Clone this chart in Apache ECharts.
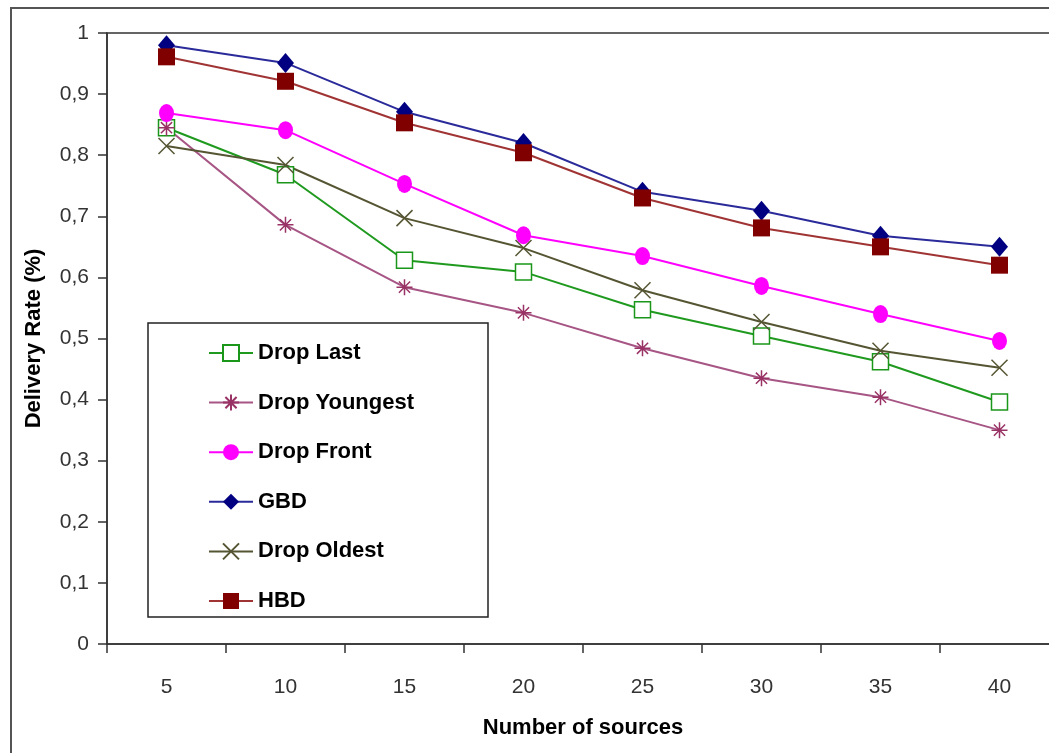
<!DOCTYPE html>
<html>
<head>
<meta charset="utf-8">
<script src="https://cdn.jsdelivr.net/npm/echarts@6/dist/echarts.min.js"></script>
<style>
  html, body { margin: 0; padding: 0; background: #fff; overflow: hidden; }
  #chart { width: 1080px; height: 753px; }
</style>
</head>
<body>
<div id="chart"></div>
<script>
// categories and series values
const sources = ['5', '10', '15', '20', '25', '30', '35', '40'];
const dropLast = [0.845, 0.768, 0.628, 0.609, 0.547, 0.504, 0.462, 0.396];
const dropYoungest = [0.845, 0.686, 0.584, 0.542, 0.484, 0.435, 0.404, 0.350];
const dropFront = [0.869, 0.841, 0.753, 0.669, 0.635, 0.586, 0.540, 0.496];
const gbd = [0.980, 0.951, 0.871, 0.820, 0.740, 0.709, 0.668, 0.650];
const dropOldest = [0.815, 0.784, 0.697, 0.648, 0.579, 0.527, 0.480, 0.452];
const hbd = [0.961, 0.921, 0.853, 0.804, 0.730, 0.681, 0.650, 0.620];

const FONT = '"Liberation Sans", Arial, sans-serif';

// open-stroke marker shapes
const starPath = 'path://M0,5L10,5M5,0L5,10M1.5,1.5L8.5,8.5M8.5,1.5L1.5,8.5';
const crossPath = 'path://M0,0L10,10M10,0L0,10';

function mkSeries(name, data, lineColor, symbol, size, itemStyle) {
  return {
    name: name,
    type: 'line',
    data: data,
    symbol: symbol,
    symbolSize: size,
    showAllSymbol: true,
    lineStyle: { color: lineColor, width: 2 },
    itemStyle: itemStyle,
    emphasis: { disabled: true },
    z: 3
  };
}

const chart = echarts.init(document.getElementById('chart'));

const option = {
  animation: false,
  backgroundColor: '#fff',
  graphic: [
    {
      type: 'rect',
      shape: { x: 11, y: 8, width: 1200, height: 800 },
      style: { fill: 'none', stroke: '#555', lineWidth: 2 },
      z: 0
    },
    {
      type: 'rect',
      shape: { x: 148, y: 323, width: 340, height: 294 },
      style: { fill: '#fff', stroke: '#222', lineWidth: 1.5 },
      z: 5
    }
  ],
  grid: {
    left: 107,
    top: 33,
    width: 952,
    height: 611,
    show: true,
    borderColor: '#333',
    borderWidth: 1.5,
    backgroundColor: '#fff'
  },
  legend: {
    orient: 'vertical',
    left: 208,
    top: 342,
    itemWidth: 44,
    itemHeight: 20,
    itemGap: 27.6,
    padding: 0,
    z: 6,
    textStyle: { fontFamily: FONT, fontSize: 22, color: '#000', fontWeight: 'bold', padding: [0, 0, 0, 0] },
    data: ['Drop Last', 'Drop Youngest', 'Drop Front', 'GBD', 'Drop Oldest', 'HBD']
  },
  xAxis: {
    type: 'category',
    data: sources,
    boundaryGap: true,
    name: 'Number of sources',
    nameLocation: 'middle',
    nameGap: 73,
    nameTextStyle: { fontFamily: FONT, fontSize: 22, color: '#000', fontWeight: 'bold' },
    axisLine: { lineStyle: { color: '#333', width: 1.5 } },
    axisTick: { show: true, inside: false, length: 9, interval: 0, lineStyle: { color: '#333', width: 1.5 } },
    axisLabel: { margin: 33, fontFamily: FONT, fontSize: 21, color: '#333' },
    splitLine: { show: false }
  },
  yAxis: {
    type: 'value',
    min: 0,
    max: 1,
    interval: 0.1,
    name: 'Delivery Rate (%)',
    nameLocation: 'middle',
    nameGap: 62,
    nameTextStyle: { fontFamily: FONT, fontSize: 22, color: '#000', fontWeight: 'bold' },
    axisLine: { show: true, lineStyle: { color: '#333', width: 1.5 } },
    axisTick: { show: true, inside: false, length: 9, lineStyle: { color: '#333', width: 1.5 } },
    axisLabel: {
      margin: 18,
      fontFamily: FONT,
      fontSize: 21,
      color: '#333',
      formatter: function (v) { return String(Math.round(v * 10) / 10).replace('.', ','); }
    },
    splitLine: { show: false }
  },
  series: [
    mkSeries('Drop Last', dropLast, '#1f9a1f', 'rect', 16,
      { color: '#fff', borderColor: '#1a961a', borderWidth: 1.5 }),
    mkSeries('Drop Youngest', dropYoungest, '#a65584', starPath, 16,
      { color: '#993366', borderColor: '#993366', borderWidth: 1.5 }),
    mkSeries('Drop Front', dropFront, '#ff00ff', 'circle', [15, 18],
      { color: '#ff00ff' }),
    mkSeries('GBD', gbd, '#2a2a9a', 'diamond', [17, 20],
      { color: '#000080' }),
    mkSeries('Drop Oldest', dropOldest, '#555533', crossPath, 16,
      { color: '#555533', borderColor: '#555533', borderWidth: 1.5 }),
    mkSeries('HBD', hbd, '#a03333', 'rect', 17,
      { color: '#800000' })
  ]
};

chart.setOption(option);
</script>
</body>
</html>
